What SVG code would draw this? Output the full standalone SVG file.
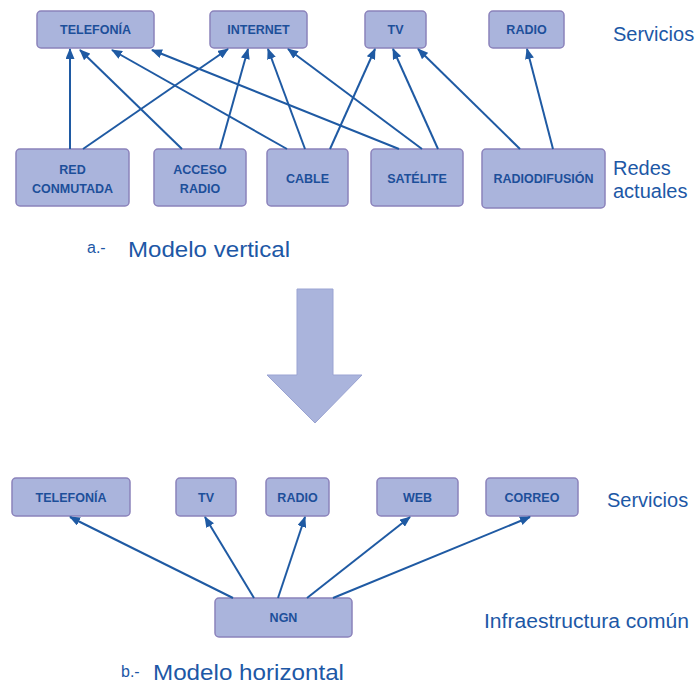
<svg xmlns="http://www.w3.org/2000/svg" width="697" height="686" viewBox="0 0 697 686">
<defs>
<marker id="ah" markerWidth="11" markerHeight="9" refX="10" refY="4.5" orient="auto" markerUnits="userSpaceOnUse">
<path d="M0,0 L11,4.5 L0,9 Z" fill="#1f5aa3"/>
</marker>
<style>
.box{fill:#aab4dc;stroke:#8b82bb;stroke-width:1.5}
.bt{font-family:"Liberation Sans",Arial,sans-serif;font-weight:bold;font-size:12.5px;fill:#1d4f9a;text-anchor:middle}
.lbl{font-family:"Liberation Sans",Arial,sans-serif;font-size:20px;fill:#1d58a6}
.cap{font-family:"Liberation Sans",Arial,sans-serif;font-size:22px;fill:#1d58a6}
.capa{font-family:"Liberation Sans",Arial,sans-serif;font-size:16px;fill:#1d58a6}
.con line{stroke:#1f5aa3;stroke-width:2;marker-end:url(#ah)}
</style>
</defs>
<rect width="697" height="686" fill="#ffffff"/>

<g id="top-services">
<g id="s-telefonia"><rect class="box" x="37" y="11" width="117" height="37" rx="4"/><text class="bt" x="95.5" y="34">TELEFONÍA</text></g>
<g id="s-internet"><rect class="box" x="210" y="11" width="97" height="37" rx="4"/><text class="bt" x="258.5" y="34">INTERNET</text></g>
<g id="s-tv"><rect class="box" x="365" y="11" width="61" height="37" rx="4"/><text class="bt" x="395.5" y="34">TV</text></g>
<g id="s-radio"><rect class="box" x="489" y="11" width="75" height="37" rx="4"/><text class="bt" x="526.5" y="34">RADIO</text></g>
</g>

<g id="networks">
<g id="n-red"><rect class="box" x="16" y="149" width="113" height="57" rx="4"/><text class="bt" x="72.5" y="174">RED</text><text class="bt" x="72.5" y="193">CONMUTADA</text></g>
<g id="n-acceso"><rect class="box" x="154" y="149" width="92" height="57" rx="4"/><text class="bt" x="200" y="174">ACCESO</text><text class="bt" x="200" y="193">RADIO</text></g>
<g id="n-cable"><rect class="box" x="267" y="149" width="81" height="57" rx="4"/><text class="bt" x="307.5" y="183">CABLE</text></g>
<g id="n-satelite"><rect class="box" x="371" y="149" width="92" height="57" rx="4"/><text class="bt" x="417" y="183">SATÉLITE</text></g>
<g id="n-radiodifusion"><rect class="box" x="482" y="149" width="123" height="59" rx="4"/><text class="bt" x="543.5" y="183">RADIODIFUSIÓN</text></g>
</g>

<g id="connectors-top" class="con">
<line x1="70" y1="149" x2="70" y2="49"/>
<line x1="83" y1="149" x2="228" y2="49"/>
<line x1="182" y1="149" x2="80" y2="50"/>
<line x1="220" y1="149" x2="248" y2="49"/>
<line x1="287" y1="149" x2="112" y2="50"/>
<line x1="305" y1="149" x2="268" y2="49"/>
<line x1="330" y1="149" x2="375" y2="49"/>
<line x1="399" y1="149" x2="152" y2="50"/>
<line x1="422" y1="149" x2="288" y2="49"/>
<line x1="438" y1="149" x2="393" y2="49"/>
<line x1="520" y1="149" x2="418" y2="49"/>
<line x1="553" y1="149" x2="527" y2="49"/>
</g>

<text class="lbl" x="613" y="41">Servicios</text>
<text class="lbl" x="613" y="175">Redes</text>
<text class="lbl" x="613" y="198">actuales</text>
<text class="capa" x="87" y="253">a.-</text>
<text class="cap" x="128" y="257" textLength="162" lengthAdjust="spacingAndGlyphs">Modelo vertical</text>

<g id="big-arrow">
<path d="M297,289 L333,289 L333,375 L362,375 L315,423 L267,375 L297,375 Z" fill="#aab4dc" stroke="#9aa3d2" stroke-width="1"/>
</g>

<g id="bottom-services">
<g id="b-telefonia"><rect class="box" x="12" y="478" width="118" height="38" rx="4"/><text class="bt" x="71" y="502">TELEFONÍA</text></g>
<g id="b-tv"><rect class="box" x="176" y="478" width="60" height="38" rx="4"/><text class="bt" x="206" y="502">TV</text></g>
<g id="b-radio"><rect class="box" x="266" y="478" width="63" height="38" rx="4"/><text class="bt" x="297.5" y="502">RADIO</text></g>
<g id="b-web"><rect class="box" x="377" y="478" width="81" height="38" rx="4"/><text class="bt" x="417.5" y="502">WEB</text></g>
<g id="b-correo"><rect class="box" x="486" y="478" width="92" height="38" rx="4"/><text class="bt" x="532" y="502">CORREO</text></g>
</g>

<g id="ngn"><rect class="box" x="215" y="598" width="137" height="39" rx="4"/><text class="bt" x="283.5" y="622">NGN</text></g>

<g id="connectors-bottom" class="con">
<line x1="233" y1="598" x2="70" y2="517"/>
<line x1="254" y1="598" x2="205" y2="517"/>
<line x1="278" y1="598" x2="305" y2="517"/>
<line x1="307" y1="598" x2="410" y2="517"/>
<line x1="333" y1="598" x2="530" y2="517"/>
</g>

<text class="lbl" x="607" y="507">Servicios</text>
<text class="lbl" x="484" y="628" textLength="205" lengthAdjust="spacingAndGlyphs">Infraestructura común</text>
<text class="capa" x="121" y="677">b.-</text>
<text class="cap" x="153" y="680" textLength="191" lengthAdjust="spacingAndGlyphs">Modelo horizontal</text>
</svg>
